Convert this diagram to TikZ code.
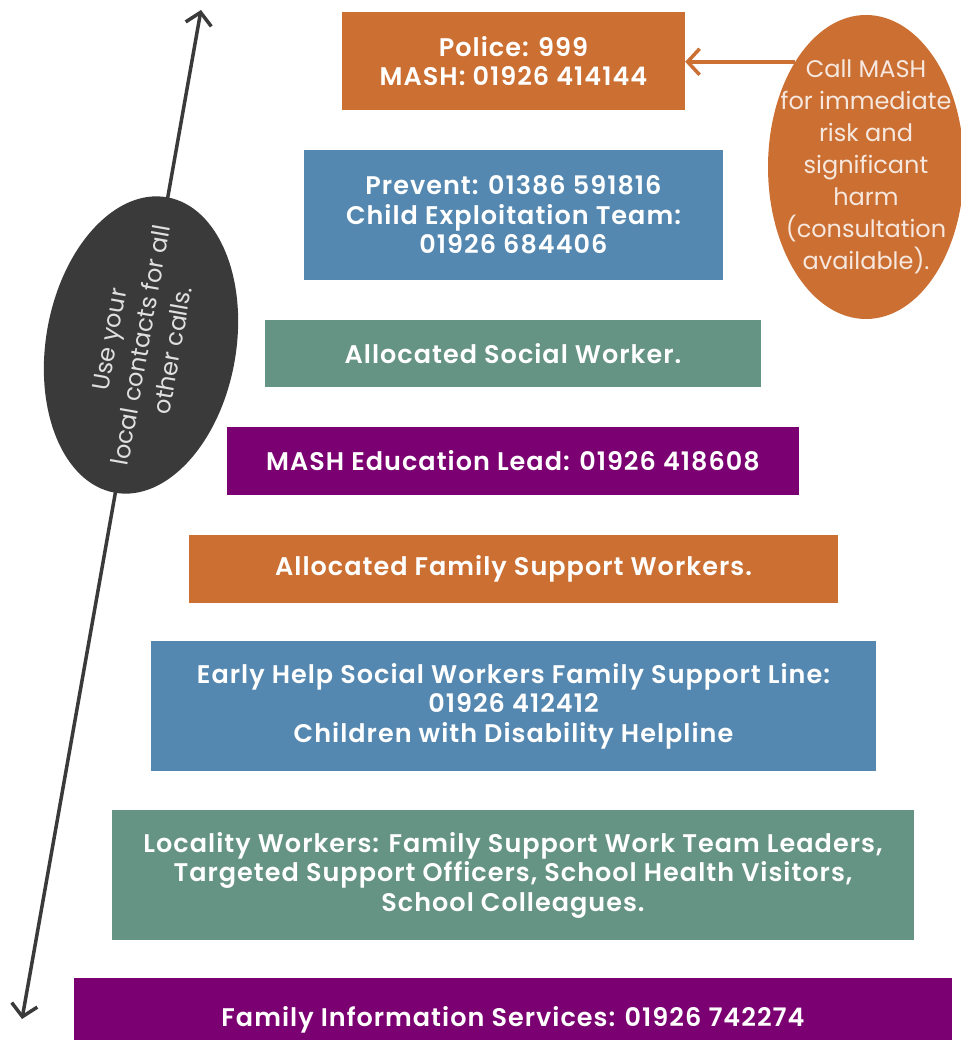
\documentclass[tikz,border=0pt]{standalone}
\usepackage{fontspec}
\setmainfont{Poppins}[BoldFont={Poppins SemiBold}]
\usetikzlibrary{arrows.meta,shapes.geometric}
\definecolor{rust}{HTML}{CC6F33}
\definecolor{steel}{HTML}{5588B0}
\definecolor{sage}{HTML}{659384}
\definecolor{plum}{HTML}{7B0071}
\definecolor{charcoal}{HTML}{3A3A3A}
\definecolor{paletext}{HTML}{F6E8DE}
\begin{document}
\begin{tikzpicture}[x=1pt, y=-1pt,
		box_style/.style={rectangle,inner sep=0pt,text=white,align=center,
			font=\fontsize{25.5}{29.5}\selectfont\bfseries\addfontfeature{LetterSpace=4}},
		note_style/.style={ellipse,inner xsep=-25pt,inner ysep=-12pt,align=center,
			font=\fontsize{24}{32}\selectfont},
		edge_style/.style={line width=3.5pt,arrows={-Straight Barb[length=12pt,width=26pt,line width=3.5pt]}}]
		
		\useasboundingbox (0,0) rectangle (960,1040);
		
		\node[box_style,fill=rust,minimum width=343,minimum height=98] (police) at (513.5,61)
			{Police: 999\\MASH: 01926 414144};
		\node[box_style,fill=steel,minimum width=419,minimum height=130] (prevent) at (513.5,215)
			{Prevent: 01386 591816\\Child Exploitation Team:\\01926 684406};
		\node[box_style,fill=sage,minimum width=496,minimum height=67] (social) at (513,353.5)
			{Allocated Social Worker.};
		\node[box_style,fill=plum,minimum width=572,minimum height=68] (edlead) at (513,461)
			{MASH Education Lead: 01926 418608};
		\node[box_style,fill=rust,minimum width=649,minimum height=68] (support) at (513.5,569)
			{Allocated Family Support Workers.};
		\node[box_style,fill=steel,minimum width=725,minimum height=130] (earlyhelp) at (513.5,706)
			{Early Help Social Workers Family Support Line:\\01926 412412\\Children with Disability Helpline};
		\node[box_style,fill=sage,minimum width=802,minimum height=130] (locality) at (513,875)
			{Locality Workers: Family Support Work Team Leaders,\\Targeted Support Officers, School Health Visitors,\\School Colleagues.};
		\node[box_style,fill=plum,minimum width=878,minimum height=76,text depth=0pt] (fis) at (513,1016)
			{Family Information Services: 01926 742274};
		
		\node[note_style,fill=rust,text=paletext,minimum width=196,minimum height=304] (mash_note) at (866,167)
			{Call MASH\\for immediate\\risk and\\significant\\harm\\(consultation\\available).};
		
		\coordinate (arrow_top) at (201,10);
		\coordinate (arrow_bot) at (22,1019);
		\draw[edge_style,charcoal,arrows={Straight Barb[length=12pt,width=26pt,line width=3.5pt]-Straight Barb[length=12pt,width=26pt,line width=3.5pt]}] (arrow_bot) -- (arrow_top);
		
		\node[note_style,fill=charcoal,text=white!88!black,rotate=80,minimum width=300,minimum height=190] (local_note) at (141,345)
			{Use your\\local contacts for all\\other calls.};
		
		\draw[edge_style,rust] (mash_note.124) -- (mash_note.124 -| police.east);
		
\end{tikzpicture}
\end{document}
